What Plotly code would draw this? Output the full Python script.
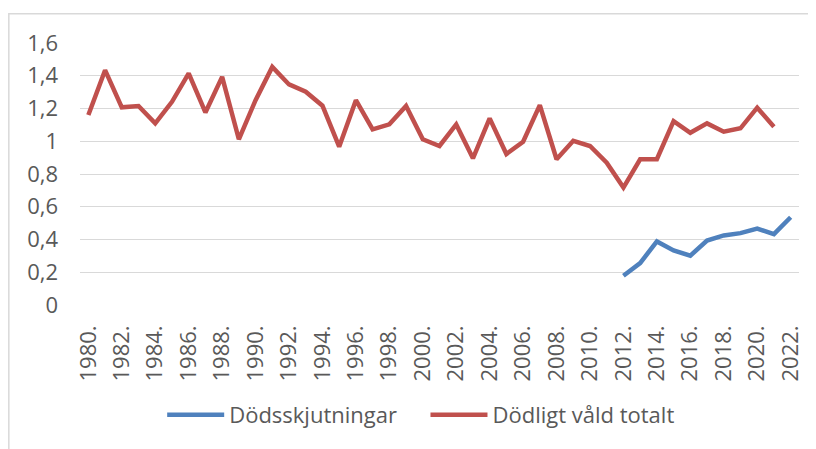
import plotly.graph_objects as go

years = [str(y) + "." for y in range(1980, 2023)]

dodligt_vald = [1.16, 1.434, 1.207, 1.215, 1.109, 1.241, 1.414, 1.176, 1.393, 1.012,
                1.251, 1.454, 1.347, 1.302, 1.217, 0.967, 1.251, 1.073, 1.103, 1.215,
                1.012, 0.971, 1.103, 0.896, 1.14, 0.922, 0.997, 1.221, 0.89, 1.003,
                0.971, 0.869, 0.717, 0.89, 0.89, 1.123, 1.052, 1.109, 1.058, 1.079,
                1.205, 1.089, None]

dodsskjutningar = [None] * 32 + [0.179, 0.256, 0.388, 0.333, 0.301, 0.394, 0.425,
                                 0.439, 0.467, 0.433, 0.536]

y_ticks = [0, 0.2, 0.4, 0.6, 0.8, 1, 1.2, 1.4, 1.6]
y_ticktext = ["0", "0,2", "0,4", "0,6", "0,8", "1", "1,2", "1,4", "1,6"]
x_ticks = years[::2]

BLUE = "#4F81BD"
RED = "#C0504D"
GRAY = "#595959"
FONT = "Open Sans"

fig = go.Figure()
fig.add_trace(go.Scatter(x=years, y=dodsskjutningar, mode="lines", name="Dödsskjutningar",
                         line=dict(color=BLUE, width=4.5), connectgaps=False, legend="legend"))
fig.add_trace(go.Scatter(x=years, y=dodligt_vald, mode="lines", name="Dödligt våld totalt",
                         line=dict(color=RED, width=4.5), connectgaps=False, legend="legend2"))

fig.update_layout(
    width=808, height=441,
    margin=dict(l=72, r=17, t=35, b=144),
    paper_bgcolor="white", plot_bgcolor="white",
    font=dict(family=FONT, color=GRAY, size=22),
    showlegend=True,
    legend=dict(orientation="h", x=0.1143, xanchor="left", y=-0.42, yanchor="middle",
                itemwidth=57, font=dict(size=22, color=GRAY), bgcolor="rgba(0,0,0,0)"),
    legend2=dict(orientation="h", x=0.4805, xanchor="left", y=-0.42, yanchor="middle",
                 itemwidth=57, font=dict(size=22, color=GRAY), bgcolor="rgba(0,0,0,0)"),
    xaxis=dict(type="category", range=[-0.5, 42.5], tickmode="array", tickvals=x_ticks,
               ticktext=x_ticks, tickangle=-90, showgrid=False, showline=False, zeroline=False,
               ticks="", ticklabelstandoff=15, tickfont=dict(size=22, color=GRAY)),
    yaxis=dict(range=[0, 1.6], tickmode="array", tickvals=y_ticks, ticktext=y_ticktext,
               showgrid=True, gridcolor="#D9D9D9", gridwidth=1.3, zeroline=False,
               showline=False, ticks="", ticklabelstandoff=21, tickfont=dict(size=22, color=GRAY)),
    shapes=[dict(type="rect", xref="paper", yref="paper", x0=-0.099, x1=1.05, y0=-0.7, y1=1.112,
                 line=dict(color="#D9D9D9", width=1.5), fillcolor="rgba(0,0,0,0)", layer="below")],
)

fig.write_html("out.html")
